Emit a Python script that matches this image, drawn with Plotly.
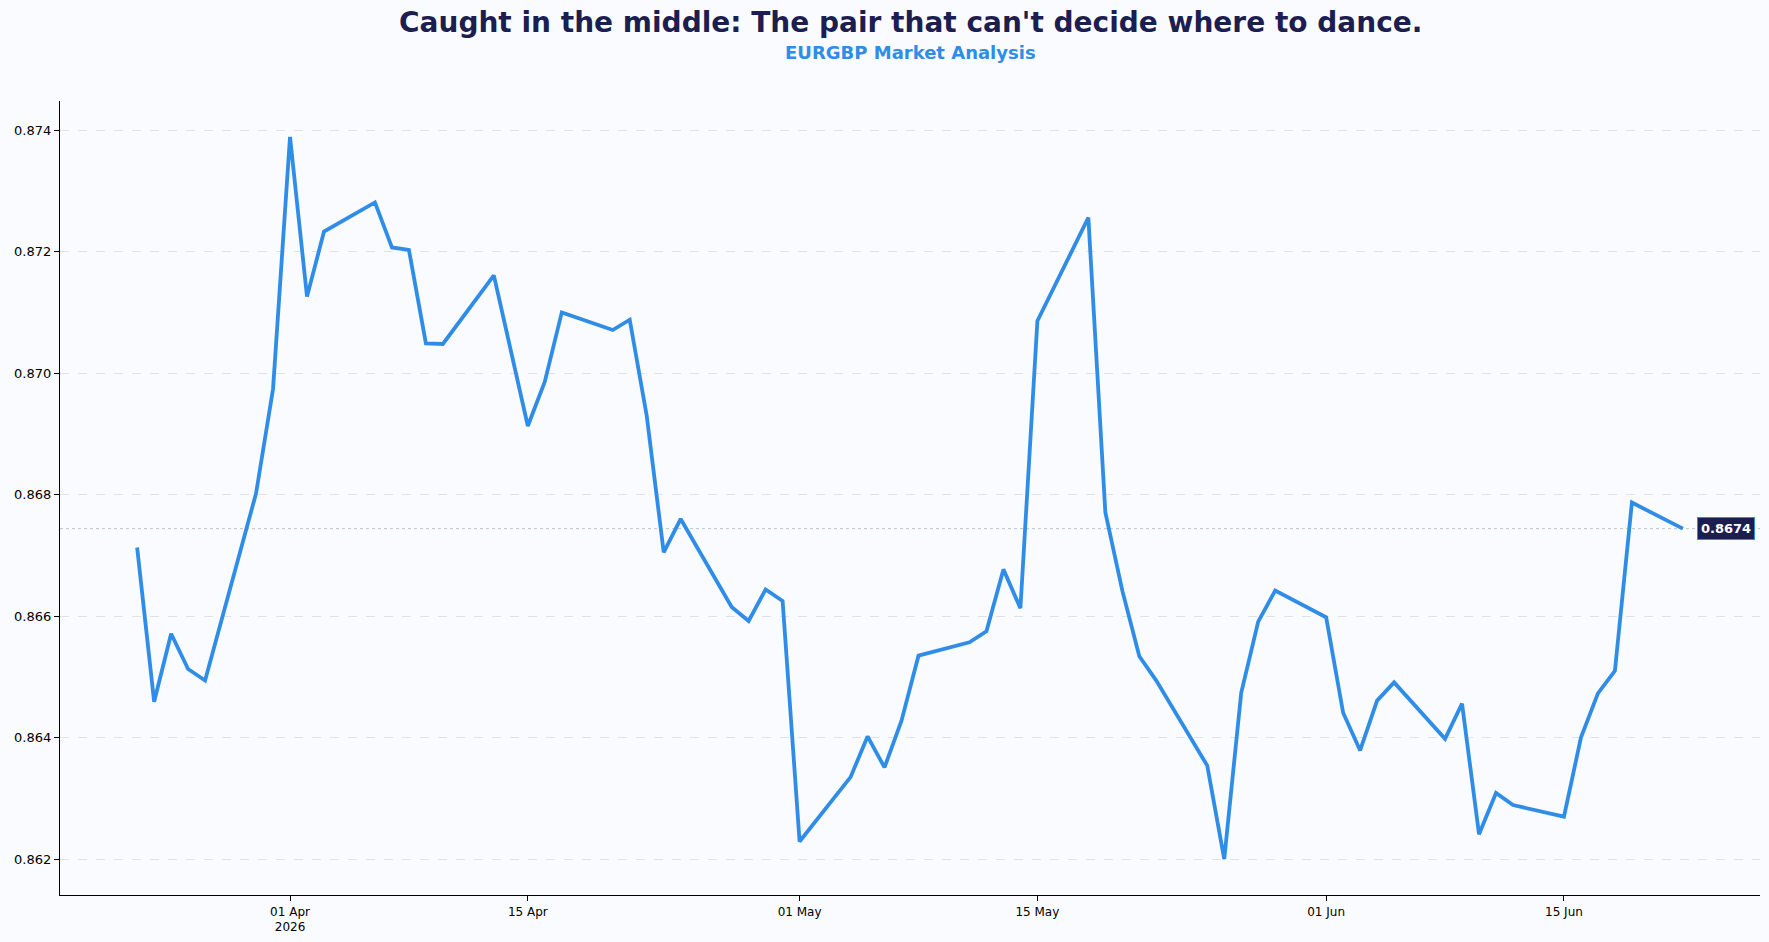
import plotly.graph_objects as go

dates = [
    "2026-03-23", "2026-03-24", "2026-03-25", "2026-03-26", "2026-03-27",
    "2026-03-30", "2026-03-31", "2026-04-01", "2026-04-02", "2026-04-03",
    "2026-04-06", "2026-04-07", "2026-04-08", "2026-04-09", "2026-04-10",
    "2026-04-13", "2026-04-15", "2026-04-16", "2026-04-17",
    "2026-04-20", "2026-04-21", "2026-04-22", "2026-04-23", "2026-04-24",
    "2026-04-27", "2026-04-28", "2026-04-29", "2026-04-30", "2026-05-01",
    "2026-05-04", "2026-05-05", "2026-05-06", "2026-05-07", "2026-05-08",
    "2026-05-11", "2026-05-12", "2026-05-13", "2026-05-14", "2026-05-15",
    "2026-05-18", "2026-05-19", "2026-05-20", "2026-05-21", "2026-05-22",
    "2026-05-25", "2026-05-26", "2026-05-27", "2026-05-28", "2026-05-29",
    "2026-06-01", "2026-06-02", "2026-06-03", "2026-06-04", "2026-06-05",
    "2026-06-08", "2026-06-09", "2026-06-10", "2026-06-11", "2026-06-12",
    "2026-06-15", "2026-06-16", "2026-06-17", "2026-06-18", "2026-06-19",
    "2026-06-22",
]
prices = [
    0.86713, 0.86459, 0.86571, 0.86513, 0.86494,
    0.86802, 0.86974, 0.87389, 0.87126, 0.87233,
    0.87281, 0.87207, 0.87203, 0.87049, 0.87048,
    0.87161, 0.86913, 0.86986, 0.87100,
    0.87071, 0.87088, 0.86930, 0.86705, 0.86760,
    0.86615, 0.86592, 0.86644, 0.86625, 0.86229,
    0.86335, 0.86402, 0.86351, 0.86428, 0.86535,
    0.86557, 0.86575, 0.86677, 0.86613, 0.87086,
    0.87256, 0.86771, 0.86642, 0.86534, 0.86494,
    0.86354, 0.86200, 0.86474, 0.86591, 0.86642,
    0.86598, 0.86441, 0.86379, 0.86461, 0.86491,
    0.86398, 0.86456, 0.86241, 0.86309, 0.86289,
    0.86270, 0.86400, 0.86473, 0.86510, 0.86787,
    0.86744,
]
tick_dates = ["2026-04-01", "2026-04-15", "2026-05-01", "2026-05-15", "2026-06-01", "2026-06-15"]
tick_labels = ["01 Apr<br>2026", "15 Apr", "01 May", "15 May", "01 Jun", "15 Jun"]
y_ticks = [0.862, 0.864, 0.866, 0.868, 0.870, 0.872, 0.874]

title = "Caught in the middle: The pair that can't decide where to dance."
subtitle = "EURGBP Market Analysis"

BG = "#F9FBFE"
LINE = "#2F8DE8"
NAVY = "#1C1E50"
FONT = "DejaVu Sans"

fig = go.Figure()
fig.add_trace(go.Scatter(
    x=dates, y=prices, mode="lines",
    line=dict(color=LINE, width=3.8),
    hoverinfo="x+y", showlegend=False,
))

last = prices[-1]
fig.add_shape(type="line", xref="paper", x0=0, x1=1, yref="y", y0=last, y1=last,
              line=dict(color="#B8C2CC", width=1, dash="dot"), layer="below")

fig.add_annotation(
    x=dates[-1], y=last, xref="x", yref="y",
    text=f"<b>{last:.4f}</b>", showarrow=False,
    xanchor="left", yanchor="middle", xshift=14,
    font=dict(family=FONT, size=13, color="white"),
    bgcolor=NAVY, bordercolor=LINE, borderwidth=1, borderpad=3,
)

fig.add_annotation(
    x=0.5, y=1.0985, xref="paper", yref="paper",
    text=f"<b>{title}</b>", showarrow=False,
    xanchor="center", yanchor="middle",
    font=dict(family=FONT, size=28, color=NAVY),
)
fig.add_annotation(
    x=0.5, y=1.0615, xref="paper", yref="paper",
    text=f"<b>{subtitle}</b>", showarrow=False,
    xanchor="center", yanchor="middle",
    font=dict(family=FONT, size=18, color="#2F8DE8"),
)

fig.update_layout(
    width=1769, height=942,
    margin=dict(l=60, r=9, t=101, b=47),
    paper_bgcolor=BG, plot_bgcolor=BG,
    font=dict(family=FONT, size=13, color="black"),
    xaxis=dict(
        type="date",
        range=["2026-03-18 11:00", "2026-06-26 13:00"],
        tickvals=tick_dates, ticktext=tick_labels,
        ticks="outside", ticklen=5, tickcolor="black", tickwidth=1,
        showline=True, linecolor="black", linewidth=1.2,
        showgrid=False, zeroline=False,
        tickfont=dict(family=FONT, size=12, color="black"),
    ),
    yaxis=dict(
        range=[0.86141, 0.87448],
        tickvals=y_ticks, tickformat=".3f",
        ticks="outside", ticklen=5, tickcolor="black", tickwidth=1,
        showline=True, linecolor="black", linewidth=1.2,
        showgrid=True, gridcolor="#DCE3EA", griddash="dash", gridwidth=1,
        zeroline=False,
        tickfont=dict(family=FONT, size=13, color="black"),
    ),
)

fig.write_html("out.html")
